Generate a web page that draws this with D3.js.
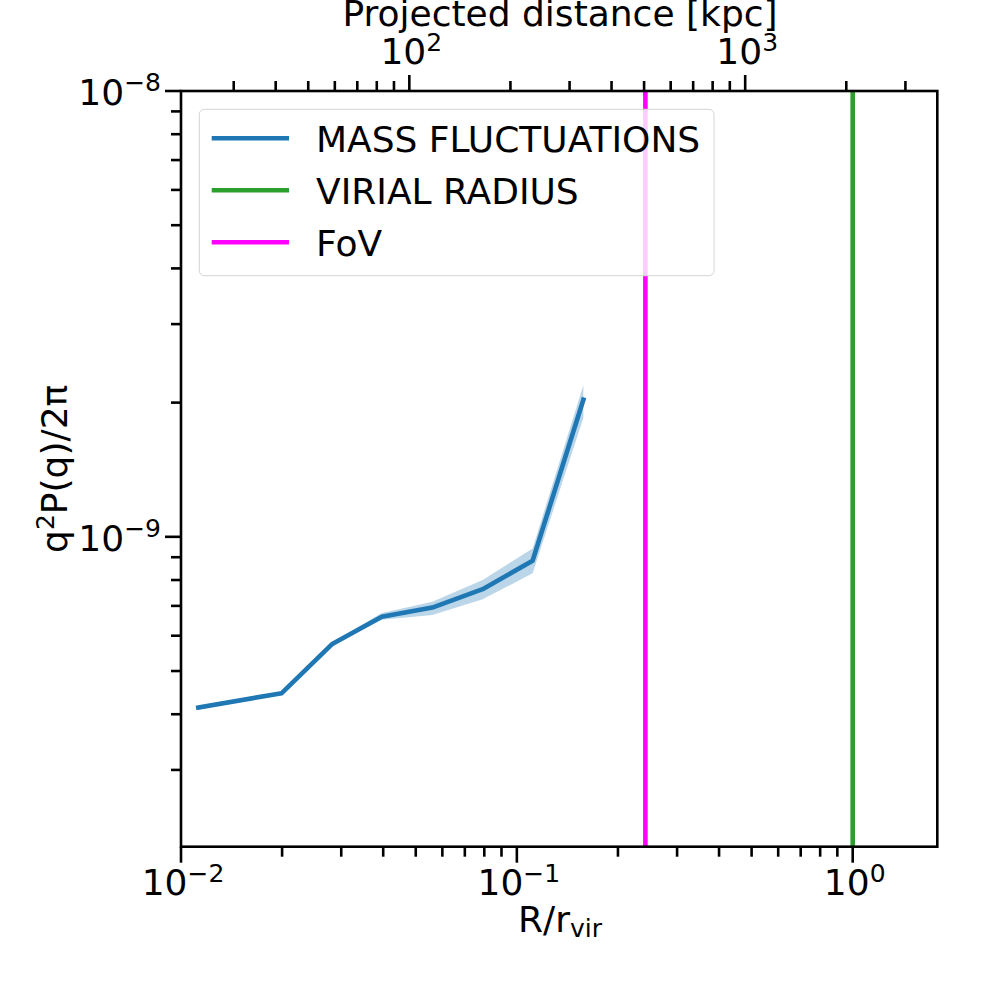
<!DOCTYPE html>
<html>
<head>
<meta charset="utf-8">
<script src="https://cdn.jsdelivr.net/npm/d3@7"></script>
<style>
  html, body { margin: 0; padding: 0; background: #fff; }
  svg { display: block; }
  text { font-family: "DejaVu Sans", sans-serif; fill: #000; }
</style>
</head>
<body>
<script>
// ---------------- data ----------------
const rRatio    = [0.01126, 0.01995, 0.02812, 0.03961, 0.05602, 0.0791, 0.1114, 0.1578];
const power     = [4.14e-10, 4.46e-10, 5.74e-10, 6.62e-10, 6.94e-10, 7.63e-10, 8.84e-10, 2.03e-9];
const powerLow  = [4.10e-10, 4.42e-10, 5.69e-10, 6.52e-10, 6.68e-10, 7.24e-10, 8.28e-10, 1.85e-9];
const powerHigh = [4.18e-10, 4.50e-10, 5.79e-10, 6.75e-10, 7.15e-10, 8.00e-10, 9.42e-10, 2.19e-9];
const virialRadius = 1.0;      // R/r_vir
const fovRadius = 0.2414;      // R/r_vir
const rvirKpc = 2090;          // kpc
const xDomain = [0.01, 1.786];
const yDomain = [2.018e-10, 1e-8];
const xMajorTicks = [0.01, 0.1, 1];
const yMajorTicks = [1e-9, 1e-8];
const topMajorTicks = [100, 1000];
const xMajorLabels = ["−2", "−1", "0"];
const yMajorLabels = ["−9", "−8"];
const topMajorLabels = ["2", "3"];
const legendLabels = ["MASS FLUCTUATIONS", "VIRIAL RADIUS", "FoV"];
const colors = {line: "#1f77b4", virial: "#2ca02c", fov: "#ff00ff"};

// ---------------- layout ----------------
const W = 1008, H = 1008;
const L = 181, R = 937.3, T = 91, B = 846.7;

const svg = d3.select("body").append("svg").attr("width", W).attr("height", H);

const x = d3.scaleLog().domain(xDomain).range([L, R]);
const y = d3.scaleLog().domain(yDomain).range([B, T]);
const xTop = d3.scaleLog().domain([xDomain[0] * rvirKpc, xDomain[1] * rvirKpc]).range([L, R]);

function minorTicks(domain) {
  const out = [];
  const lo = Math.floor(Math.log10(domain[0])), hi = Math.ceil(Math.log10(domain[1]));
  for (let e = lo; e <= hi; e++) {
    for (let m = 2; m <= 9; m++) {
      const v = m * Math.pow(10, e);
      if (v >= domain[0] * 0.9999 && v <= domain[1] * 1.0001) out.push(v);
    }
  }
  return out;
}

const plot = svg.append("g");

// band
const idx = d3.range(rRatio.length);
plot.append("path")
  .attr("d", d3.area().x(i => x(rRatio[i])).y0(i => y(powerLow[i])).y1(i => y(powerHigh[i]))(idx))
  .attr("fill", colors.line).attr("fill-opacity", 0.3).attr("stroke", "none");

// main line
plot.append("path")
  .attr("d", d3.line().x(i => x(rRatio[i])).y(i => y(power[i]))(idx))
  .attr("fill", "none").attr("stroke", colors.line).attr("stroke-width", 4.6)
  .attr("stroke-linejoin", "round").attr("stroke-linecap", "square");

// vertical lines
plot.append("line").attr("x1", x(virialRadius)).attr("x2", x(virialRadius))
  .attr("y1", T).attr("y2", B).attr("stroke", colors.virial).attr("stroke-width", 4.6);
plot.append("line").attr("x1", x(fovRadius)).attr("x2", x(fovRadius))
  .attr("y1", T).attr("y2", B).attr("stroke", colors.fov).attr("stroke-width", 4.6);

// legend
const lg = svg.append("g");
lg.append("rect").attr("x", 199.3).attr("y", 109.3).attr("width", 714 - 199.3).attr("height", 275.7 - 109.3)
  .attr("rx", 5).attr("ry", 5)
  .attr("fill", "#fff").attr("fill-opacity", 0.8).attr("stroke", "#d4d4d4").attr("stroke-width", 1);
const legColors = [colors.line, colors.virial, colors.fov];
legendLabels.forEach((lab, i) => {
  const yy = 138.3 + i * 52;
  lg.append("line").attr("x1", 211.7).attr("x2", 289).attr("y1", yy).attr("y2", yy)
    .attr("stroke", legColors[i]).attr("stroke-width", 4.6);
  lg.append("text").attr("x", 316).attr("y", yy + 13.2).attr("font-size", 36).text(lab);
});

// axes frame (spines)
const ax = svg.append("g");
ax.append("rect").attr("x", L).attr("y", T).attr("width", R - L).attr("height", B - T)
  .attr("fill", "none").attr("stroke", "#000").attr("stroke-width", 2.6);

const tickW = 2.6, majLen = 16, minLen = 10;
// bottom
xMajorTicks.forEach(v => ax.append("line").attr("x1", x(v)).attr("x2", x(v)).attr("y1", B).attr("y2", B + majLen).attr("stroke", "#000").attr("stroke-width", tickW));
minorTicks(xDomain).forEach(v => ax.append("line").attr("x1", x(v)).attr("x2", x(v)).attr("y1", B).attr("y2", B + minLen).attr("stroke", "#000").attr("stroke-width", tickW));
// left
yMajorTicks.forEach(v => ax.append("line").attr("x1", L - majLen).attr("x2", L).attr("y1", y(v)).attr("y2", y(v)).attr("stroke", "#000").attr("stroke-width", tickW));
minorTicks(yDomain).forEach(v => ax.append("line").attr("x1", L - minLen).attr("x2", L).attr("y1", y(v)).attr("y2", y(v)).attr("stroke", "#000").attr("stroke-width", tickW));
// top
topMajorTicks.forEach(v => ax.append("line").attr("x1", xTop(v)).attr("x2", xTop(v)).attr("y1", T - majLen).attr("y2", T).attr("stroke", "#000").attr("stroke-width", tickW));
minorTicks(xTop.domain()).forEach(v => ax.append("line").attr("x1", xTop(v)).attr("x2", xTop(v)).attr("y1", T - minLen).attr("y2", T).attr("stroke", "#000").attr("stroke-width", tickW));

function powLabel(g, px, py, exp, anchor) {
  const t = g.append("text").attr("x", px).attr("y", py).attr("font-size", 36).attr("text-anchor", anchor);
  t.append("tspan").text("10");
  t.append("tspan").attr("dy", -13.5).attr("font-size", 25).text(exp);
  return t;
}
xMajorTicks.forEach((v, i) => powLabel(ax, x(v) + 2, 895, xMajorLabels[i], "middle"));
yMajorTicks.forEach((v, i) => powLabel(ax, 161, y(v) + 13.8, yMajorLabels[i], "end"));
topMajorTicks.forEach((v, i) => powLabel(ax, xTop(v) + 2, 64, topMajorLabels[i], "middle"));

// axis titles
const xl = ax.append("text").attr("x", 560).attr("y", 931.7).attr("font-size", 36).attr("text-anchor", "middle");
xl.append("tspan").text("R/r");
xl.append("tspan").attr("dy", 5).attr("font-size", 25).text("vir");

ax.append("text").attr("x", 560).attr("y", 26).attr("font-size", 36).attr("text-anchor", "middle")
  .text("Projected distance [kpc]");

const yl = ax.append("text").attr("transform", `translate(67,${(T + B) / 2}) rotate(-90)`)
  .attr("font-size", 36).attr("text-anchor", "middle");
yl.append("tspan").text("q");
yl.append("tspan").attr("dy", -13.5).attr("font-size", 25).text("2");
yl.append("tspan").attr("dy", 13.5).text("P(q)/2π");
</script>
</body>
</html>
